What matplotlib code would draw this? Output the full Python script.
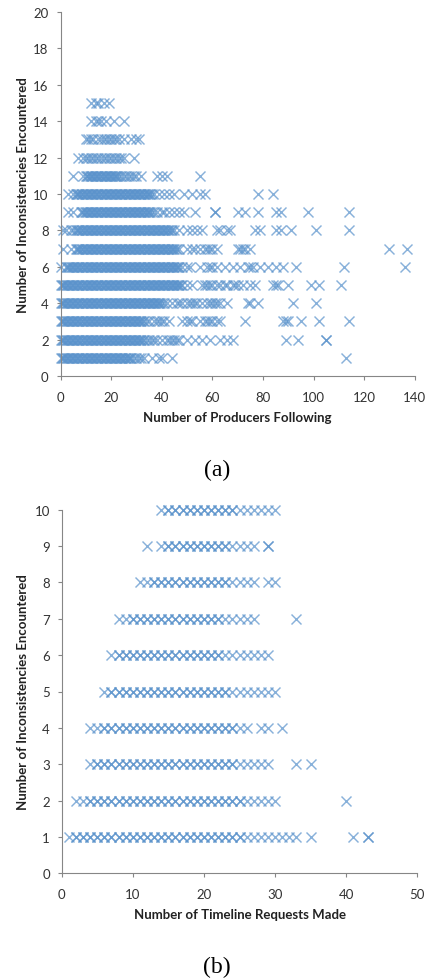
import matplotlib
matplotlib.use('Agg')
import matplotlib.pyplot as plt

# (a) producers followed, one list per number of inconsistencies
prod_1 = [0,1,2,3,4,5,6,7,8,9,10,11,12,13,14,15,16,17,18,19,20,21,22,23,24,25,26,27,28,29,30,31,32,33,36,39,40,44,113]
prod_2 = [0,1,2,3,4,5,6,7,8,9,10,11,12,13,14,15,16,17,18,19,20,21,22,23,24,25,26,27,28,29,30,31,32,33,34,35,36,37,38,40,42,43,44,45,46,47,50,53,56,59,63,66,68,89,94,105,105]
prod_3 = [0,1,2,3,4,5,6,7,8,9,10,11,12,13,14,15,16,17,18,19,20,21,22,23,24,25,26,27,28,29,30,31,32,33,34,35,37,38,39,40,41,43,48,50,51,52,55,57,58,59,60,62,63,73,88,89,90,95,102,114]
prod_4 = [0,1,2,3,4,5,6,7,8,9,10,11,12,13,14,15,16,17,18,19,20,21,22,23,24,25,26,27,28,29,30,31,32,33,34,35,36,37,38,39,40,41,42,44,46,47,48,50,51,52,53,54,56,58,59,60,61,62,63,66,74,75,78,92,101]
prod_5 = [0,1,2,3,4,5,6,7,8,9,10,11,12,13,14,15,16,17,18,19,20,21,22,23,24,25,26,27,28,29,30,31,32,33,34,35,36,37,38,39,40,41,42,43,44,45,46,47,48,50,52,56,57,58,59,60,62,63,65,66,68,69,70,72,75,77,84,85,86,90,99,102,111]
prod_6 = [0,2,3,4,5,6,7,8,9,10,11,12,13,14,15,16,17,18,19,20,21,22,23,24,25,26,27,28,29,30,31,32,33,34,35,36,37,38,39,40,41,42,43,44,45,46,47,48,50,51,55,58,59,60,62,65,68,71,74,75,76,79,82,85,88,93,112,136]
prod_7 = [1,4,6,7,8,9,10,11,12,13,14,15,16,17,18,19,20,21,22,23,24,25,26,27,28,29,30,31,32,33,34,35,36,37,38,39,40,41,42,43,44,45,46,47,50,52,53,55,57,58,59,60,62,70,71,72,73,75,130,137]
prod_8 = [1,2,4,5,6,7,8,9,10,11,12,13,14,15,16,17,18,19,20,21,22,23,24,25,26,27,28,29,30,31,32,33,34,35,36,37,38,39,40,41,42,43,44,45,47,50,52,54,56,62,63,66,67,77,79,85,87,91,101,114]
prod_9 = [3,5,8,9,10,11,12,13,14,15,16,17,18,19,20,21,22,23,24,25,26,27,28,29,30,31,32,33,34,35,36,37,38,40,41,43,45,47,49,53,61,61,70,73,78,85,87,98,114]
prod_10 = [3,5,6,7,8,9,10,11,12,13,14,15,16,17,18,19,20,21,22,23,24,25,26,27,28,29,30,31,32,33,34,35,36,37,39,41,43,45,49,52,55,57,78,84]
prod_11 = [5,9,10,11,12,13,14,15,16,17,18,19,20,21,22,23,24,25,26,27,28,29,30,32,38,40,42,55]
prod_12 = [7,9,10,11,12,13,14,15,16,17,18,19,20,21,22,23,24,25,29]
prod_13 = [10,11,12,13,15,16,17,18,19,20,21,22,23,25,28,30,31]
prod_14 = [12,14,15,16,18,21,25]
prod_15 = [12,14,15,17,19]
prod_rows = [prod_1, prod_2, prod_3, prod_4, prod_5, prod_6, prod_7, prod_8,
             prod_9, prod_10, prod_11, prod_12, prod_13, prod_14, prod_15]

# the packed part of each row in (a), where the crosses merge into a band
band_1 = [0.5,1.5,2.5,3.5,4.5,5.5,6.5,7.5,8.5,9.5,10.5,11.5,12.5,13.5,14.5,15.5,16.5,17.5,18.5,19.5,20.5,21.5,22.5,23.5,24.5,25.5,26.5,27.5]
band_2 = [0.5,1.5,2.5,3.5,4.5,5.5,6.5,7.5,8.5,9.5,10.5,11.5,12.5,13.5,14.5,15.5,16.5,17.5,18.5,19.5,20.5,21.5,22.5,23.5,24.5,25.5,26.5,27.5,28.5,29.5,30.5,31.5,32.5]
band_3 = [0.5,1.5,2.5,3.5,4.5,5.5,6.5,7.5,8.5,9.5,10.5,11.5,12.5,13.5,14.5,15.5,16.5,17.5,18.5,19.5,20.5,21.5,22.5,23.5,24.5,25.5,26.5,27.5,28.5,29.5,30.5,31.5,32.5]
band_4 = [0.5,1.5,2.5,3.5,4.5,5.5,6.5,7.5,8.5,9.5,10.5,11.5,12.5,13.5,14.5,15.5,16.5,17.5,18.5,19.5,20.5,21.5,22.5,23.5,24.5,25.5,26.5,27.5,28.5,29.5,30.5,31.5,32.5,33.5,34.5,35.5,36.5,37.5,38.5,39.5]
band_5 = [0.5,1.5,2.5,3.5,4.5,5.5,6.5,7.5,8.5,9.5,10.5,11.5,12.5,13.5,14.5,15.5,16.5,17.5,18.5,19.5,20.5,21.5,22.5,23.5,24.5,25.5,26.5,27.5,28.5,29.5,30.5,31.5,32.5,33.5,34.5,35.5,36.5,37.5,38.5,39.5,40.5,41.5,42.5,43.5,44.5,45.5,46.5,47.5]
band_6 = [2.5,3.5,4.5,5.5,6.5,7.5,8.5,9.5,10.5,11.5,12.5,13.5,14.5,15.5,16.5,17.5,18.5,19.5,20.5,21.5,22.5,23.5,24.5,25.5,26.5,27.5,28.5,29.5,30.5,31.5,32.5,33.5,34.5,35.5,36.5,37.5,38.5,39.5,40.5,41.5,42.5,43.5,44.5,45.5,46.5]
band_7 = [6.5,7.5,8.5,9.5,10.5,11.5,12.5,13.5,14.5,15.5,16.5,17.5,18.5,19.5,20.5,21.5,22.5,23.5,24.5,25.5,26.5,27.5,28.5,29.5,30.5,31.5,32.5,33.5,34.5,35.5,36.5,37.5,38.5,39.5,40.5,41.5,42.5,43.5,44.5,45.5]
band_8 = [6.5,7.5,8.5,9.5,10.5,11.5,12.5,13.5,14.5,15.5,16.5,17.5,18.5,19.5,20.5,21.5,22.5,23.5,24.5,25.5,26.5,27.5,28.5,29.5,30.5,31.5,32.5,33.5,34.5,35.5,36.5,37.5,38.5,39.5,40.5,41.5,42.5,43.5]
band_9 = [8.5,9.5,10.5,11.5,12.5,13.5,14.5,15.5,16.5,17.5,18.5,19.5,20.5,21.5,22.5,23.5,24.5,25.5,26.5,27.5,28.5,29.5,30.5,31.5,32.5,33.5,34.5,35.5]
band_10 = [6.5,7.5,8.5,9.5,10.5,11.5,12.5,13.5,14.5,15.5,16.5,17.5,18.5,19.5,20.5,21.5,22.5,23.5,24.5,25.5,26.5,27.5,28.5,29.5,30.5,31.5,32.5,33.5,34.5,35.5]
band_11 = [10.5,11.5,12.5,13.5,14.5,15.5,16.5,17.5,18.5,19.5,20.5,21.5,22.5]
band_rows = [band_1, band_2, band_3, band_4, band_5, band_6, band_7, band_8, band_9, band_10, band_11]

# (b) timeline requests made, one list per number of inconsistencies
req_1 = [1,2,3,4,5,6,7,8,9,10,11,12,13,14,15,16,17,18,19,20,21,22,23,24,25,26,27,28,29,30,31,32,33,35,41,43,43]
req_2 = [2,3,4,5,6,7,8,9,10,11,12,13,14,15,16,17,18,19,20,21,22,23,24,25,26,27,28,29,30,40]
req_3 = [4,5,6,7,8,9,10,11,12,13,14,15,16,17,18,19,20,21,22,23,24,25,26,27,28,29,33,35]
req_4 = [4,5,6,7,8,9,10,11,12,13,14,15,16,17,18,19,20,21,22,23,24,25,26,28,29,31]
req_5 = [6,7,8,9,10,11,12,13,14,15,16,17,18,19,20,21,22,23,24,25,26,27,28,29,30]
req_6 = [7,8,9,10,11,12,13,14,15,16,17,18,19,20,21,22,23,24,25,26,27,28,29]
req_7 = [8,9,10,11,12,13,14,15,16,17,18,19,20,21,22,23,24,25,26,27,33]
req_8 = [11,12,13,14,15,16,17,18,19,20,21,22,23,24,25,26,27,29,30]
req_9 = [12,14,15,16,17,18,19,20,21,22,23,24,25,26,27,29,29]
req_10 = [14,15,16,17,18,19,20,21,22,23,24,25,26,27,28,29,30]
req_rows = [req_1, req_2, req_3, req_4, req_5, req_6, req_7, req_8, req_9, req_10]

# repeated values in (b), the users that share a request count
rep_1 = [2,3,4,5,6,7,8,9,10,11,12,13,14,15,16,17,18,19,20,21,22,23,24,25]
rep_2 = [4,5,6,7,8,9,10,11,12,13,14,15,16,17,18,19,20,21,22,23,24,25]
rep_3 = [5,6,7,8,9,10,11,12,13,14,15,16,17,18,19,20,21,22,23,24]
rep_4 = [6,7,8,9,10,11,12,13,14,15,16,17,18,19,20,21,22,23,24]
rep_5 = [7,8,9,10,11,12,13,14,15,16,17,18,19,20,21,22,23]
rep_6 = [8,9,10,11,12,13,14,15,16,17,18,19,20,21,22]
rep_7 = [10,11,12,13,14,15,16,17,18,19,20,21,22]
rep_8 = [13,14,15,16,17,18,19,20,21,22,23]
rep_9 = [15,16,17,18,19,20,21,22,23]
rep_10 = [15,16,17,18,19,20,21,22,23,24]
rep_rows = [rep_1, rep_2, rep_3, rep_4, rep_5, rep_6, rep_7, rep_8, rep_9, rep_10]

ticks_a_x = [0, 20, 40, 60, 80, 100, 120, 140]
ticks_a_y = [0, 2, 4, 6, 8, 10, 12, 14, 16, 18, 20]
ticks_b_x = [0, 10, 20, 30, 40, 50]
ticks_b_y = [0, 1, 2, 3, 4, 5, 6, 7, 8, 9, 10]

W, H = 426, 979
plt.rcParams['font.family'] = ['Lato', 'DejaVu Sans']
fig = plt.figure(figsize=(W / 100, H / 100), dpi=100)


def draw_rows(ax, rows):
    for n, row in enumerate(rows):
        ax.plot(row, [n + 1] * len(row), linestyle='none', marker='x', ms=7, mew=1.05,
                color='#5b93cc', alpha=0.72, clip_on=False)


def scatter_panel(rows, box, xlim, ylim, xticks, yticks, xlabel, ylabel, caption, cap_y):
    left, top, right, bottom = box
    ax = fig.add_axes([left / W, 1 - bottom / H, (right - left) / W, (bottom - top) / H])
    draw_rows(ax, rows)
    ax.set_xlim(xlim)
    ax.set_ylim(ylim)
    ax.set_xticks(xticks)
    ax.set_yticks(yticks)
    ax.spines['top'].set_visible(False)
    ax.spines['right'].set_visible(False)
    ax.spines['left'].set_color('#868686')
    ax.spines['bottom'].set_color('#868686')
    ax.tick_params(length=3, width=0.8, color='#868686', labelcolor='#333333', labelsize=9.5)
    ax.tick_params(axis='x', pad=7.5)
    ax.tick_params(axis='y', pad=5.5)
    ax.set_xlabel(xlabel, fontsize=9.5, fontweight='bold', color='#222222')
    ax.set_ylabel(ylabel, fontsize=9.5, fontweight='bold', color='#222222')
    ax.xaxis.set_label_coords(0.5, -35 / (bottom - top))
    ax.yaxis.set_label_coords((29 - left) / (right - left), 0.5)
    fig.text(217 / W, 1 - cap_y / H, caption, family='Liberation Serif', fontsize=17,
             color='black', ha='center', va='center')
    return ax


ax_a = scatter_panel(prod_rows, (60.5, 13, 414.7, 377), (0, 140), (0, 20), ticks_a_x, ticks_a_y,
                     'Number of Producers Following', 'Number of Inconsistencies Encountered', '(a)', 470)
draw_rows(ax_a, band_rows)

ax_b = scatter_panel(req_rows, (61.7, 510.7, 417.3, 874.3), (0, 50), (0, 10), ticks_b_x, ticks_b_y,
                     'Number of Timeline Requests Made', 'Number of Inconsistencies Encountered', '(b)', 967)
draw_rows(ax_b, rep_rows)

fig.savefig('out.png', dpi=100)
